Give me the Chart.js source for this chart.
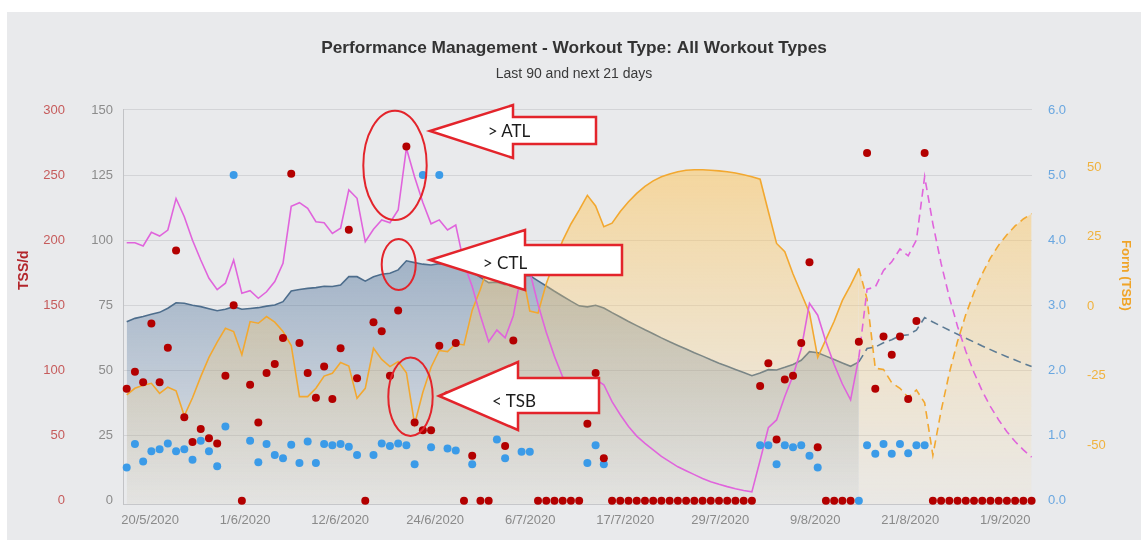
<!DOCTYPE html>
<html>
<head>
<meta charset="utf-8">
<title>Performance Management</title>
<script src="https://cdn.jsdelivr.net/npm/chart.js@4.4.1/dist/chart.umd.min.js"></script>
<style>
  html, body { margin: 0; padding: 0; background: #fff; }
  body { width: 1141px; height: 540px; position: relative; overflow: hidden; }
  #panel { position: absolute; left: 7px; top: 12px; width: 1134px; height: 528px; background: #e9eaec; }
  #notes { position: absolute; left: 0; top: 0; pointer-events: none; }
  #notes ellipse { fill: none; stroke: #e3242b; stroke-width: 2; }
  #notes polygon { fill: #fff; stroke: #e3242b; stroke-width: 2.5; }
  #notes text { font-family: Lato, "Open Sans", sans-serif; font-size: 17px; fill: #1b1b1b; text-anchor: middle; dominant-baseline: central; }
</style>
</head>
<body>
<div id="panel"><canvas id="pmc"></canvas></div>
<svg id="notes" width="1141" height="540">
  <ellipse cx="395" cy="165.4" rx="31.7" ry="54.7"/>
  <ellipse cx="398.7" cy="264.5" rx="17" ry="25.5"/>
  <ellipse cx="410.5" cy="396.8" rx="22.2" ry="39.2"/>
  <polygon points="430,131 513,105 513,117 596,117 596,144 513,144 513,158"/>
  <polygon points="430,260 525,230 525,245 622,245 622,275 525,275 525,290"/>
  <polygon points="439,396 518,362 518,378 599,378 599,413 518,413 518,430"/>
  <text x="509" y="130">&gt; ATL</text>
  <text x="505" y="262">&gt; CTL</text>
  <text x="514" y="400">&lt; TSB</text>
</svg>
<script>
// x axis tick labels and where they sit (day index)
const tickLabels = ["20/5/2020", "1/6/2020", "12/6/2020", "24/6/2020", "6/7/2020",
  "17/7/2020", "29/7/2020", "9/8/2020", "21/8/2020", "1/9/2020"];
const tickDays = [2.85, 14.4, 25.95, 37.5, 49.05, 60.6, 72.15, 83.7, 95.25, 106.8];
const todayIndex = 89;

// daily TSS (red dots)
const tss = [
  86, 99, 91, 136, 91, 117.5, 192, 64, 45, 55,
  48, 44, 96, 150, 0, 89, 60, 98, 105, 125,
  251, 121, 98, 79, 103, 78, 117, 208, 94, 0,
  137, 130, 96, 146, 272, 60, 54, 54, 119, 81,
  121, 0, 34.5, 0, 0, 92, 42, 123, 190, 88,
  0, 0, 0, 0, 0, 0, 59, 98, 32.5, 0,
  0, 0, 0, 0, 0, 0, 0, 0, 0, 0,
  0, 0, 0, 0, 0, 0, 0, 88, 105.5, 47,
  93, 96, 121, 183, 41, 0, 0, 0, 0, 122,
  267, 86, 126, 112, 126, 78, 138, 267, 0, 0,
  0, 0, 0, 0, 0, 0, 0, 0, 0, 0,
  0
];

// intensity factor (blue dots)
const intensity = [
  0.51, 0.87, 0.60, 0.76, 0.79, 0.88, 0.76, 0.79, 0.63, 0.92,
  0.76, 0.53, 1.14, 5.0, null, 0.92, 0.59, 0.87, 0.70, 0.65,
  0.86, 0.58, 0.91, 0.58, 0.87, 0.85, 0.87, 0.83, 0.70, null,
  0.70, 0.88, 0.84, 0.88, 0.85, 0.56, 5.0, 0.82, 5.0, 0.80,
  0.77, null, 0.56, null, null, 0.94, 0.65, null, 0.75, 0.75,
  null, null, null, null, null, null, 0.58, 0.85, 0.56, null,
  null, null, null, null, null, null, null, null, null, null,
  null, null, null, null, null, null, null, 0.85, 0.85, 0.56,
  0.85, 0.82, 0.85, 0.69, 0.51, null, null, null, null, 0.0,
  0.85, 0.72, 0.87, 0.72, 0.87, 0.73, 0.85, 0.85, null, null,
  null, null, null, null, null, null, null, null, null, null,
  null
];

// fatigue (ATL)
const atl = [
  99, 99, 97.8, 103, 101.6, 103.9, 116, 109, 100, 92.4,
  85.4, 81, 83.5, 92.4, 79.6, 80.6, 77.7, 80.2, 84.1, 91.1,
  113, 114.4, 112.2, 107.1, 106.7, 102.6, 104.6, 119.3, 116.1, 99.4,
  104.2, 107.8, 106.7, 111.6, 135.3, 124.3, 114.5, 106.3, 107.8, 103.9,
  105.8, 91, 82.2, 71, 61, 65.5, 62.5, 71, 88, 88,
  75.4, 64.7, 55.4, 47.5, 40.7, 34.9, 38.3, 46.5, 44.5, 38,
  33, 28.5, 24.8, 22, 19.5, 17, 15, 13, 11.5, 10,
  8.5, 7.3, 6.3, 5.4, 4.6, 3.9, 3.4, 15.5, 28, 31,
  40, 48, 58.3, 75.8, 71.2, 61, 52.3, 44.8, 38.7, 55,
  81.2, 82, 88.4, 91.7, 96.6, 94, 100.1, 124.4, 106.3, 91.1,
  78.1, 66.9, 57.4, 49.2, 42.1, 36.1, 31, 26.5, 22.7, 19.5,
  16.7
];

// fitness (CTL)
const ctl = [
  68.7, 70, 70.7, 71.6, 72.3, 73.9, 76, 75.8, 75, 74.5,
  73.7, 72.9, 73.5, 74.5, 73.5, 73.8, 74.1, 74.7, 75.1, 76.4,
  80.5, 81.1, 81.5, 81.8, 82.3, 82.2, 82.8, 86, 86, 84.3,
  86, 86.9, 87.3, 88.6, 92.1, 91.4, 90.8, 90.5, 91, 90.8,
  91.2, 89.1, 87.8, 85.7, 83.7, 83.9, 82.9, 83.9, 86.4, 86.4,
  84.4, 82.4, 80.4, 78.5, 76.6, 74.8, 74.4, 75, 74, 72.2,
  70.5, 68.8, 67.2, 65.6, 64.1, 62.5, 61, 59.6, 58.2, 56.8,
  55.5, 54.1, 52.8, 51.6, 50.4, 49.2, 48, 49, 50.3, 50.2,
  51.2, 52.3, 53.9, 57.2, 56.8, 55.5, 54.2, 52.9, 51.6, 53.3,
  58.4, 59, 60.6, 61.8, 63.3, 63.7, 65.5, 70.3, 68.6, 67,
  65.4, 63.9, 62.4, 60.9, 59.4, 58, 56.6, 55.3, 54, 52.7,
  51.5
];

// form (TSB)
const tsb = [
  -32, -29.6, -28.5, -27.8, -31.4, -29.2, -30.5, -39.5, -33, -25.4,
  -18.5, -13, -8, -9.2, -17.5, -5.6, -6.2, -3.8, -5.8, -9.2,
  -14.2, -32.6, -32.6, -29.6, -25.2, -24.2, -20.3, -21.6, -33.2, -29.6,
  -15.2, -19.2, -21.8, -20, -24, -42.5, -31, -22, -16, -16.4,
  -13.5, -14, -1.5, 6, 15, 23, 19.5, 21.5, 13.5, -1.8,
  -2.5, 8, 16, 23.5, 29.5, 34.5, 39.8, 36, 28.5, 29.8,
  34, 37.5, 40.5, 43, 45, 46.5, 47.5, 48.3, 48.8, 49,
  49, 48.8, 48.6, 48.3, 47.8, 47.2, 46.5, 45.6, 34, 22.5,
  19.5, 11.5, 4.5, -2.5, -18.5, -12, -5.5, 2, 7.5, 13.5,
  2.5, -22.4, -22.8, -27.6, -29.6, -32.8, -30.2, -34.8, -53.7, -37.7,
  -24.1, -12.7, -3.1, 4.9, 11.6, 17.3, 21.9, 25.6, 28.8, 31.3,
  33.2
];

const tssTicks = [0, 50, 100, 150, 200, 250, 300];
const loadTicks = [0, 25, 50, 75, 100, 125, 150];
const ifTicks = [0, 1, 2, 3, 4, 5, 6];
const formTicks = [-50, -25, 0, 25, 50];

Chart.defaults.font.family = "'Liberation Sans', Arial, Helvetica, sans-serif";

const asPoints = (arr, keep) => arr.map((v, i) => ({ x: i, y: keep && !keep(i) ? null : v }));
const futureDash = ctx => (ctx.p0DataIndex >= todayIndex ? [8, 5] : undefined);
const fixTicks = values => scale => { scale.ticks = values.map(v => ({ value: v })); };
const fixWidth = w => scale => { scale.width = w; };

function vGradient(top, bottom) {
  return ctx => {
    const area = ctx.chart.chartArea;
    if (!area) return top;
    const g = ctx.chart.ctx.createLinearGradient(0, area.top, 0, area.bottom);
    g.addColorStop(0, top);
    g.addColorStop(1, bottom);
    return g;
  };
}

// rotated axis titles, placed a bit above the axis middle like the original
const axisTitles = {
  id: "axisTitles",
  afterDraw(chart) {
    const { ctx, scales } = chart;
    const draw = (text, x, y, angle, color, size) => {
      ctx.save();
      ctx.translate(x, y);
      ctx.rotate(angle);
      ctx.font = "bold " + size + "px 'Liberation Sans', Arial, sans-serif";
      ctx.fillStyle = color;
      ctx.textAlign = "center";
      ctx.textBaseline = "middle";
      ctx.fillText(text, 0, 0);
      ctx.restore();
    };
    draw("TSS/d", scales.yTss.left + 17, scales.yTss.getPixelForValue(177), -Math.PI / 2, "#b3262b", 14);
    draw("Form (TSB)", scales.yForm.right - 15, scales.yForm.getPixelForValue(11), Math.PI / 2, "#f0a428", 13);
  }
};

new Chart(document.getElementById("pmc"), {
  type: "line",
  data: {
    datasets: [
      { label: "TSS", data: asPoints(tss), yAxisID: "yTss", showLine: false,
        pointRadius: 4, pointHoverRadius: 4, pointBackgroundColor: "#b30000", pointBorderWidth: 0, clip: false, order: 0 },
      { label: "IF", data: asPoints(intensity), yAxisID: "yIf", showLine: false,
        pointRadius: 4, pointHoverRadius: 4, pointBackgroundColor: "#3b9be8", pointBorderWidth: 0, clip: false, order: 1 },
      { label: "ATL", data: asPoints(atl), yAxisID: "yLoad", borderColor: "#e064dc", borderWidth: 1.6,
        pointRadius: 0, segment: { borderDash: futureDash }, order: 2 },
      { label: "CTL planned", data: asPoints(ctl, i => i >= todayIndex), yAxisID: "yLoad", borderColor: "#5d7b94",
        borderWidth: 1.6, borderDash: [8, 5], pointRadius: 0, order: 3 },
      { label: "TSB", data: asPoints(tsb), yAxisID: "yForm", borderColor: "#f2a830", borderWidth: 1.6,
        pointRadius: 0, segment: { borderDash: futureDash }, fill: "start",
        backgroundColor: vGradient("rgba(255,192,75,0.6)", "rgba(255,215,140,0.07)"), order: 4 },
      { label: "CTL", data: asPoints(ctl, i => i <= todayIndex), yAxisID: "yLoad", borderColor: "#4d6d8c",
        borderWidth: 1.6, pointRadius: 0, fill: "start",
        backgroundColor: vGradient("rgba(60,100,145,0.64)", "rgba(60,100,145,0.04)"), order: 5 }
    ]
  },
  options: {
    responsive: true,
    maintainAspectRatio: false,
    animation: false,
    layout: { padding: 0 },
    elements: { line: { tension: 0 } },
    plugins: {
      legend: { display: false },
      tooltip: { enabled: false },
      title: {
        display: true,
        text: "Performance Management - Workout Type: All Workout Types",
        color: "#333333",
        font: { size: 17.3, weight: "bold" },
        padding: { top: 25.6, bottom: 0 }
      },
      subtitle: {
        display: true,
        text: "Last 90 and next 21 days",
        color: "#3a3a3a",
        font: { size: 14 },
        padding: { top: 7.2, bottom: 27.6 }
      }
    },
    scales: {
      x: {
        type: "linear", min: -0.45, max: 110.05,
        afterBuildTicks: fixTicks(tickDays),
        afterFit: s => { s.height = 36; },
        grid: { display: false, drawTicks: false },
        border: { display: true, color: "#c6c7ca" },
        ticks: { callback: (v, i) => tickLabels[i], color: "#8a8a8a", font: { size: 13 }, padding: 9, maxRotation: 0, autoSkip: false }
      },
      yTss: {
        position: "left", weight: 1, min: -2.54, max: 300,
        afterBuildTicks: fixTicks(tssTicks), afterFit: fixWidth(66),
        grid: { display: false, drawTicks: false }, border: { display: false },
        ticks: { color: "#c65b5b", font: { size: 13 }, padding: 8 }
      },
      yLoad: {
        position: "left", weight: 0, min: -1.27, max: 150,
        afterBuildTicks: fixTicks(loadTicks), afterFit: fixWidth(50),
        grid: { color: c => (c.tick && c.tick.value === 0 ? "rgba(0,0,0,0)" : "#d3d4d7"), drawTicks: false },
        border: { display: true, color: "#c2c3c6" },
        ticks: { color: "#8c8c8c", font: { size: 13 }, padding: 10 }
      },
      yIf: {
        position: "right", weight: 0, min: -0.0508, max: 6,
        afterBuildTicks: fixTicks(ifTicks), afterFit: fixWidth(45),
        grid: { display: false, drawTicks: false }, border: { display: false },
        ticks: { callback: v => v.toFixed(1), color: "#6aa7e0", font: { size: 13 }, padding: 16 }
      },
      yForm: {
        position: "right", weight: 1, min: -71.2, max: 70.5,
        afterBuildTicks: fixTicks(formTicks), afterFit: fixWidth(64),
        grid: { display: false, drawTicks: false }, border: { display: false },
        ticks: { color: "#f0b23e", font: { size: 13 }, padding: 10 }
      }
    }
  },
  plugins: [axisTitles]
});
</script>
</body>
</html>
